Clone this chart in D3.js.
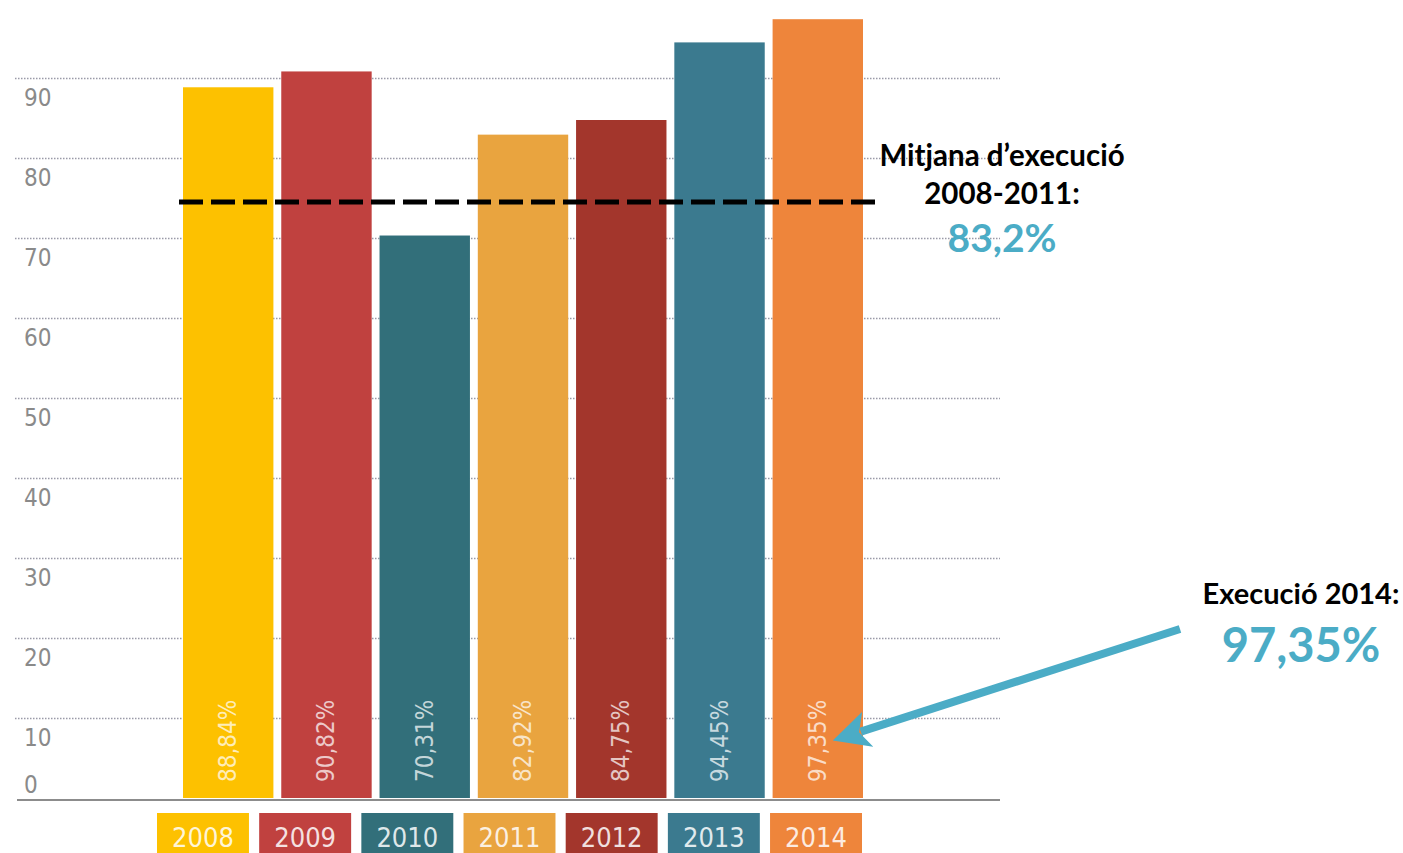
<!DOCTYPE html>
<html>
<head>
<meta charset="utf-8">
<script src="https://cdn.jsdelivr.net/npm/d3@7"></script>
<style>
  body { margin: 0; background: #fff; }
  .tick-label { font-family: "DejaVu Sans Condensed", "DejaVu Sans", sans-serif; fill: #8a8a8a; font-size: 24px; }
  .year-label { font-family: "DejaVu Sans Condensed", "DejaVu Sans", sans-serif; fill: #fff; font-size: 27px; fill-opacity: 0.85; }
  .value-label { font-family: "DejaVu Sans Condensed", "DejaVu Sans", sans-serif; fill: #fff; font-size: 24px; fill-opacity: 0.72; }
  .note { font-family: Lato, "Open Sans", sans-serif; font-weight: bold; }
</style>
</head>
<body>
<div id="graphic"></div>
<script>
const YEARS = ["2008", "2009", "2010", "2011", "2012", "2013", "2014"];
const VALUES = [88.84, 90.82, 70.31, 82.92, 84.75, 94.45, 97.35];
const VALUE_LABELS = ["88,84%", "90,82%", "70,31%", "82,92%", "84,75%", "94,45%", "97,35%"];
const COLORS = ["#fdc100", "#c0413f", "#326f7a", "#e9a43f", "#a3362c", "#3b7a8f", "#ee853b"];
const Y_TICKS = [0, 10, 20, 30, 40, 50, 60, 70, 80, 90];
const MEAN_LINE = 74.5;
const MEAN_TITLE = ["Mitjana d\u2019execució", "2008-2011:"];
const MEAN_TEXT = "83,2%";
const LAST_TITLE = "Execució 2014:";
const LAST_TEXT = "97,35%";

const WIDTH = 1403;
const HEIGHT = 853;
const BLUE = "#4bacc6";

var svg = d3.select("#graphic")
  .append("svg")
  .attr("width", WIDTH)
  .attr("height", HEIGHT);

var xScale = d3.scaleBand()
  .domain(YEARS)
  .range([183, 863])
  .paddingInner(0.08);

var labelScale = d3.scaleBand()
  .domain(YEARS)
  .range([157, 862])
  .paddingInner(0.1);

var yScale = d3.scaleLinear()
  .domain([0, 100])
  .range([798, -2]);

// dotted grid lines
svg.append("g")
  .selectAll("line")
  .data(Y_TICKS.filter(d => d > 0))
  .enter()
  .append("line")
  .attr("x1", 15)
  .attr("x2", 1000)
  .attr("y1", d => yScale(d) + 0.5)
  .attr("y2", d => yScale(d) + 0.5)
  .attr("stroke", "#9a9aa8")
  .attr("stroke-width", 1.3)
  .attr("stroke-dasharray", "1.5,1.5");

svg.append("g")
  .selectAll("text")
  .data(Y_TICKS)
  .enter()
  .append("text")
  .attr("class", "tick-label")
  .attr("x", 24)
  .attr("y", d => d == 0 ? yScale(d) - 5 : yScale(d) + 28)
  .text(d => d);

// bars
svg.append("g")
  .selectAll("rect")
  .data(VALUES)
  .enter()
  .append("rect")
  .attr("x", (d, i) => xScale(YEARS[i]))
  .attr("width", xScale.bandwidth())
  .attr("y", d => yScale(d))
  .attr("height", d => yScale(0) - yScale(d))
  .attr("fill", (d, i) => COLORS[i]);

svg.append("g")
  .selectAll("text")
  .data(VALUE_LABELS)
  .enter()
  .append("text")
  .attr("class", "value-label")
  .attr("transform", (d, i) => `translate(${xScale(YEARS[i]) + xScale.bandwidth() / 2 + 8}, ${yScale(0) - 16}) rotate(-90)`)
  .text(d => d);

// baseline
svg.append("line")
  .attr("x1", 17)
  .attr("x2", 1000)
  .attr("y1", yScale(0) + 2)
  .attr("y2", yScale(0) + 2)
  .attr("stroke", "#666")
  .attr("stroke-width", 1.5);

// year boxes
var years = svg.append("g")
  .selectAll("g")
  .data(YEARS)
  .enter()
  .append("g");

years.append("rect")
  .attr("x", d => labelScale(d))
  .attr("width", labelScale.bandwidth())
  .attr("y", 813)
  .attr("height", 45)
  .attr("fill", (d, i) => COLORS[i]);

years.append("text")
  .attr("class", "year-label")
  .attr("x", d => labelScale(d) + labelScale.bandwidth() / 2)
  .attr("y", 847)
  .attr("text-anchor", "middle")
  .text(d => d);

// mean line
svg.append("line")
  .attr("x1", xScale(YEARS[0]) - 4)
  .attr("x2", xScale(YEARS[6]) + xScale.bandwidth() + 12)
  .attr("y1", yScale(MEAN_LINE))
  .attr("y2", yScale(MEAN_LINE))
  .attr("stroke", "#000")
  .attr("stroke-width", 5)
  .attr("stroke-dasharray", "24,8");

var meanNote = svg.append("text")
  .attr("class", "note")
  .attr("text-anchor", "middle");
meanNote.append("tspan")
  .attr("x", 1002).attr("y", 166)
  .attr("font-size", 29.5)
  .text(MEAN_TITLE[0]);
meanNote.append("tspan")
  .attr("x", 1002).attr("y", 204)
  .attr("font-size", 29.5)
  .text(MEAN_TITLE[1]);
meanNote.append("tspan")
  .attr("x", 1002).attr("y", 252)
  .attr("font-size", 39)
  .attr("fill", BLUE)
  .text(MEAN_TEXT);

var lastNote = svg.append("text")
  .attr("class", "note")
  .attr("text-anchor", "middle");
lastNote.append("tspan")
  .attr("x", 1301).attr("y", 604)
  .attr("font-size", 29)
  .text(LAST_TITLE);
lastNote.append("tspan")
  .attr("x", 1301).attr("y", 662)
  .attr("font-size", 47)
  .attr("fill", BLUE)
  .text(LAST_TEXT);

// arrow to the 2014 bar label
svg.append("defs")
  .append("marker")
  .attr("id", "head")
  .attr("viewBox", "0 0 10 10")
  .attr("refX", 2)
  .attr("refY", 5)
  .attr("markerWidth", 4.6)
  .attr("markerHeight", 4.6)
  .attr("orient", "auto")
  .append("path")
  .attr("d", "M0,0 L10,5 L0,10 L2.5,5 Z")
  .attr("fill", BLUE);

var tipX = xScale(YEARS[6]) + xScale.bandwidth() / 2 + 43;
var tipY = yScale(8.3);
svg.append("line")
  .attr("x1", 1180)
  .attr("y1", 629)
  .attr("x2", tipX)
  .attr("y2", tipY)
  .attr("stroke", BLUE)
  .attr("stroke-width", 8)
  .attr("marker-end", "url(#head)");
</script>
</body>
</html>
